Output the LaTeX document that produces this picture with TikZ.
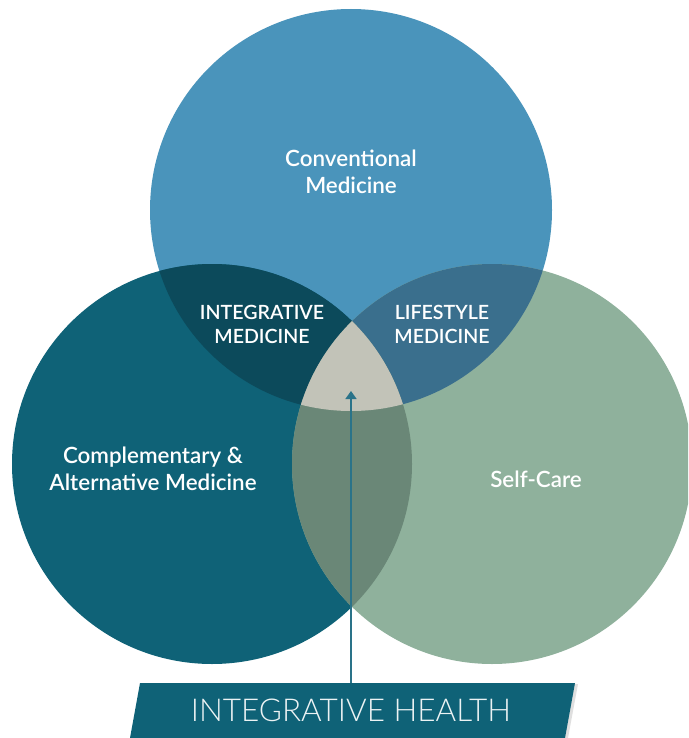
\documentclass[tikz,border=0pt]{standalone}
\usepackage{fontspec}
\setmainfont{Lato}
\newfontfamily\latosemi{Lato Semibold}
\newfontfamily\latolight{Lato Light}
\usetikzlibrary{arrows.meta}
\definecolor{convblue}{HTML}{4A94BB}
\definecolor{compteal}{HTML}{0F6277}
\definecolor{selfsage}{HTML}{8FB19C}
\definecolor{intdark}{HTML}{0C4A5B}
\definecolor{lifeblue}{HTML}{3A6F8D}
\definecolor{lensgreen}{HTML}{6A8777}
\definecolor{corestone}{HTML}{C2C3B8}
\definecolor{arrowteal}{HTML}{2A7389}
\begin{document}
\begin{tikzpicture}[x=1pt,y=-1pt,
  mainlabel/.style={text=white,align=center,font=\latosemi\fontsize{22.4}{27}\selectfont},
  caplabel/.style={text=white,align=center,font=\latosemi\fontsize{19.6}{24}\selectfont}]
\useasboundingbox (0,0) rectangle (688,738);
\clip (0,0) rectangle (688,738);
\coordinate (conv) at (351,210);
\coordinate (comp) at (212,464);
\coordinate (self) at (492,464);
\fill[convblue] (conv) circle (201pt);
\fill[compteal] (comp) circle (200pt);
\fill[selfsage] (self) circle (200pt);
\begin{scope}
\clip (conv) circle (201pt);
\fill[intdark] (comp) circle (200pt);
\fill[lifeblue] (self) circle (200pt);
\end{scope}
\begin{scope}
\clip (comp) circle (200pt);
\fill[lensgreen] (self) circle (200pt);
\clip (conv) circle (201pt);
\fill[corestone] (self) circle (200pt);
\end{scope}
\node[mainlabel] (convtext) at (351,172) {Conventional\\Medicine};
\node[caplabel] (inttext) at (262,324) {INTEGRATIVE\\MEDICINE};
\node[caplabel] (lifetext) at (442,324) {LIFESTYLE\\MEDICINE};
\node[mainlabel] (comptext) at (153,469) {Complementary \&\\Alternative Medicine};
\node[mainlabel] (selftext) at (536,479.5) {Self-Care};
%banner
\fill[black!25,opacity=0.5] (143,684)--(578,684)--(568,738)--(133,738)--cycle;
\fill[compteal] (140,683)--(575,683)--(565,738)--(130,738)--cycle;
\node[text=white!92!compteal,font=\latolight\fontsize{31.5}{36}\selectfont] (health) at (351,710.5) {INTEGRATIVE HEALTH};
\coordinate (core) at (351,391);
\draw[arrowteal,line width=1.5pt,-{Triangle[width=11pt,length=8pt]}] (351,683) -- (core);
\end{tikzpicture}
\end{document}
